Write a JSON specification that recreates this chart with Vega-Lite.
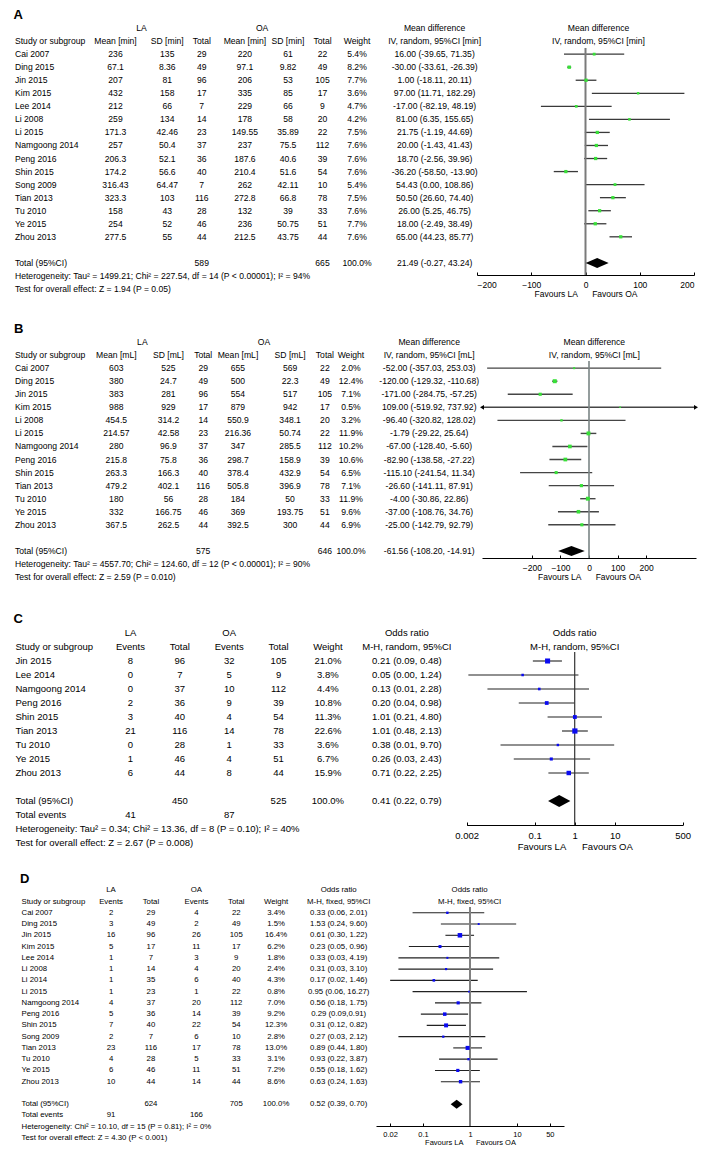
{
"$schema":"https://vega.github.io/schema/vega-lite/v6.json",
"background":"white",
"padding":{"top":9,"left":0,"right":0,"bottom":5},
"spacing":86,
"bounds":"flush",
"config":{"view":{"stroke":null},"text":{"font":"Liberation Sans","color":"#000"},"axis":{"labelFont":"Liberation Sans","titleFont":"Liberation Sans","titleFontWeight":"normal","labelColor":"#000","titleColor":"#000","domainColor":"#000","tickColor":"#000","grid":false}},
"datasets":{
"A_rows":[
{"study":"Cai 2007","m1":236,"sd1":135,"n1":29,"m2":220,"sd2":61,"n2":22,"w":0.054,"md":16.00,"lo":-39.65,"hi":71.35,"ci":"16.00 (-39.65, 71.35)"},
{"study":"Ding 2015","m1":67.1,"sd1":8.36,"n1":49,"m2":97.1,"sd2":9.82,"n2":49,"w":0.082,"md":-30.00,"lo":-33.61,"hi":-26.39,"ci":"-30.00 (-33.61, -26.39)"},
{"study":"Jin 2015","m1":207,"sd1":81,"n1":96,"m2":206,"sd2":53,"n2":105,"w":0.077,"md":1.00,"lo":-18.11,"hi":20.11,"ci":"1.00 (-18.11, 20.11)"},
{"study":"Kim 2015","m1":432,"sd1":158,"n1":17,"m2":335,"sd2":85,"n2":17,"w":0.036,"md":97.00,"lo":11.71,"hi":182.29,"ci":"97.00 (11.71, 182.29)"},
{"study":"Lee 2014","m1":212,"sd1":66,"n1":7,"m2":229,"sd2":66,"n2":9,"w":0.047,"md":-17.00,"lo":-82.19,"hi":48.19,"ci":"-17.00 (-82.19, 48.19)"},
{"study":"Li 2008","m1":259,"sd1":134,"n1":14,"m2":178,"sd2":58,"n2":20,"w":0.042,"md":81.00,"lo":6.35,"hi":155.65,"ci":"81.00 (6.35, 155.65)"},
{"study":"Li 2015","m1":171.3,"sd1":42.46,"n1":23,"m2":149.55,"sd2":35.89,"n2":22,"w":0.075,"md":21.75,"lo":-1.19,"hi":44.69,"ci":"21.75 (-1.19, 44.69)"},
{"study":"Namgoong 2014","m1":257,"sd1":50.4,"n1":37,"m2":237,"sd2":75.5,"n2":112,"w":0.076,"md":20.00,"lo":-1.43,"hi":41.43,"ci":"20.00 (-1.43, 41.43)"},
{"study":"Peng 2016","m1":206.3,"sd1":52.1,"n1":36,"m2":187.6,"sd2":40.6,"n2":39,"w":0.076,"md":18.70,"lo":-2.56,"hi":39.96,"ci":"18.70 (-2.56, 39.96)"},
{"study":"Shin 2015","m1":174.2,"sd1":56.6,"n1":40,"m2":210.4,"sd2":51.6,"n2":54,"w":0.076,"md":-36.20,"lo":-58.50,"hi":-13.90,"ci":"-36.20 (-58.50, -13.90)"},
{"study":"Song 2009","m1":316.43,"sd1":64.47,"n1":7,"m2":262,"sd2":42.11,"n2":10,"w":0.054,"md":54.43,"lo":0.00,"hi":108.86,"ci":"54.43 (0.00, 108.86)"},
{"study":"Tian 2013","m1":323.3,"sd1":103,"n1":116,"m2":272.8,"sd2":66.8,"n2":78,"w":0.075,"md":50.50,"lo":26.60,"hi":74.40,"ci":"50.50 (26.60, 74.40)"},
{"study":"Tu 2010","m1":158,"sd1":43,"n1":28,"m2":132,"sd2":39,"n2":33,"w":0.076,"md":26.00,"lo":5.25,"hi":46.75,"ci":"26.00 (5.25, 46.75)"},
{"study":"Ye 2015","m1":254,"sd1":52,"n1":46,"m2":236,"sd2":50.75,"n2":51,"w":0.077,"md":18.00,"lo":-2.49,"hi":38.49,"ci":"18.00 (-2.49, 38.49)"},
{"study":"Zhou 2013","m1":277.5,"sd1":55,"n1":44,"m2":212.5,"sd2":43.75,"n2":44,"w":0.076,"md":65.00,"lo":44.23,"hi":85.77,"ci":"65.00 (44.23, 85.77)"},
{"study":"Total (95%CI)","n1":589,"n2":665,"w":1.0,"md":21.49,"lo":-0.27,"hi":43.24,"ci":"21.49 (-0.27, 43.24)"}
],
"A_head":[
{"row":"super","col":"LA","t":"LA"},{"row":"super","col":"OA","t":"OA"},{"row":"super","col":"ci","t":"Mean difference"},{"row":"super","col":"fh","t":"Mean difference"},
{"row":"hdr","col":"m1","t":"Mean [min]"},{"row":"hdr","col":"sd1","t":"SD [min]"},{"row":"hdr","col":"n1","t":"Total"},{"row":"hdr","col":"m2","t":"Mean [min]"},{"row":"hdr","col":"sd2","t":"SD [min]"},{"row":"hdr","col":"n2","t":"Total"},{"row":"hdr","col":"w","t":"Weight"},{"row":"hdr","col":"ci","t":"IV, random, 95%CI [min]"},{"row":"hdr","col":"fh","t":"IV, random, 95%CI [min]"}
],
"A_left":[
{"row":"title","t":"A"},{"row":"hdr","t":"Study or subgroup"},
{"row":"het","t":"Heterogeneity: Tau² = 1499.21; Chi² = 227.54, df = 14 (P < 0.00001); I² = 94%"},
{"row":"test","t":"Test for overall effect: Z = 1.94 (P = 0.05)"}
],
"B_rows":[
{"study":"Cai 2007","m1":603,"sd1":525,"n1":29,"m2":655,"sd2":569,"n2":22,"w":0.020,"md":-52.00,"lo":-357.03,"hi":253.03,"ci":"-52.00 (-357.03, 253.03)"},
{"study":"Ding 2015","m1":380,"sd1":24.7,"n1":49,"m2":500,"sd2":22.3,"n2":49,"w":0.124,"md":-120.00,"lo":-129.32,"hi":-110.68,"ci":"-120.00 (-129.32, -110.68)"},
{"study":"Jin 2015","m1":383,"sd1":281,"n1":96,"m2":554,"sd2":517,"n2":105,"w":0.071,"md":-171.00,"lo":-284.75,"hi":-57.25,"ci":"-171.00 (-284.75, -57.25)"},
{"study":"Kim 2015","m1":988,"sd1":929,"n1":17,"m2":879,"sd2":942,"n2":17,"w":0.005,"md":109.00,"lo":-519.92,"hi":737.92,"ci":"109.00 (-519.92, 737.92)"},
{"study":"Li 2008","m1":454.5,"sd1":314.2,"n1":14,"m2":550.9,"sd2":348.1,"n2":20,"w":0.032,"md":-96.40,"lo":-320.82,"hi":128.02,"ci":"-96.40 (-320.82, 128.02)"},
{"study":"Li 2015","m1":214.57,"sd1":42.58,"n1":23,"m2":216.36,"sd2":50.74,"n2":22,"w":0.119,"md":-1.79,"lo":-29.22,"hi":25.64,"ci":"-1.79 (-29.22, 25.64)"},
{"study":"Namgoong 2014","m1":280,"sd1":96.9,"n1":37,"m2":347,"sd2":285.5,"n2":112,"w":0.102,"md":-67.00,"lo":-128.40,"hi":-5.60,"ci":"-67.00 (-128.40, -5.60)"},
{"study":"Peng 2016","m1":215.8,"sd1":75.8,"n1":36,"m2":298.7,"sd2":158.9,"n2":39,"w":0.106,"md":-82.90,"lo":-138.58,"hi":-27.22,"ci":"-82.90 (-138.58, -27.22)"},
{"study":"Shin 2015","m1":263.3,"sd1":166.3,"n1":40,"m2":378.4,"sd2":432.9,"n2":54,"w":0.065,"md":-115.10,"lo":-241.54,"hi":11.34,"ci":"-115.10 (-241.54, 11.34)"},
{"study":"Tian 2013","m1":479.2,"sd1":402.1,"n1":116,"m2":505.8,"sd2":396.9,"n2":78,"w":0.071,"md":-26.60,"lo":-141.11,"hi":87.91,"ci":"-26.60 (-141.11, 87.91)"},
{"study":"Tu 2010","m1":180,"sd1":56,"n1":28,"m2":184,"sd2":50,"n2":33,"w":0.119,"md":-4.00,"lo":-30.86,"hi":22.86,"ci":"-4.00 (-30.86, 22.86)"},
{"study":"Ye 2015","m1":332,"sd1":166.75,"n1":46,"m2":369,"sd2":193.75,"n2":51,"w":0.096,"md":-37.00,"lo":-108.76,"hi":34.76,"ci":"-37.00 (-108.76, 34.76)"},
{"study":"Zhou 2013","m1":367.5,"sd1":262.5,"n1":44,"m2":392.5,"sd2":300,"n2":44,"w":0.069,"md":-25.00,"lo":-142.79,"hi":92.79,"ci":"-25.00 (-142.79, 92.79)"},
{"study":"Total (95%CI)","n1":575,"n2":646,"w":1.0,"md":-61.56,"lo":-108.20,"hi":-14.91,"ci":"-61.56 (-108.20, -14.91)"}
],
"B_head":[
{"row":"super","col":"LA","t":"LA"},{"row":"super","col":"OA","t":"OA"},{"row":"super","col":"ci","t":"Mean difference"},{"row":"super","col":"fh","t":"Mean difference"},
{"row":"hdr","col":"m1","t":"Mean [mL]"},{"row":"hdr","col":"sd1","t":"SD [mL]"},{"row":"hdr","col":"n1","t":"Total"},{"row":"hdr","col":"m2","t":"Mean [mL]"},{"row":"hdr","col":"sd2","t":"SD [mL]"},{"row":"hdr","col":"n2","t":"Total"},{"row":"hdr","col":"w","t":"Weight"},{"row":"hdr","col":"ci","t":"IV, random, 95%CI [mL]"},{"row":"hdr","col":"fh","t":"IV, random, 95%CI [mL]"}
],
"B_left":[
{"row":"title","t":"B"},{"row":"hdr","t":"Study or subgroup"},
{"row":"het","t":"Heterogeneity: Tau² = 4557.70; Chi² = 124.60, df = 12 (P < 0.00001); I² = 90%"},
{"row":"test","t":"Test for overall effect: Z = 2.59 (P = 0.010)"}
],
"C_rows":[
{"study":"Jin 2015","ev1":8,"tot1":96,"ev2":32,"tot2":105,"w":0.210,"md":0.21,"lo":0.09,"hi":0.48,"ci":"0.21 (0.09, 0.48)"},
{"study":"Lee 2014","ev1":0,"tot1":7,"ev2":5,"tot2":9,"w":0.038,"md":0.05,"lo":0.0022,"hi":1.24,"ci":"0.05 (0.00, 1.24)"},
{"study":"Namgoong 2014","ev1":0,"tot1":37,"ev2":10,"tot2":112,"w":0.044,"md":0.13,"lo":0.0066,"hi":2.28,"ci":"0.13 (0.01, 2.28)"},
{"study":"Peng 2016","ev1":2,"tot1":36,"ev2":9,"tot2":39,"w":0.108,"md":0.20,"lo":0.04,"hi":0.98,"ci":"0.20 (0.04, 0.98)"},
{"study":"Shin 2015","ev1":3,"tot1":40,"ev2":4,"tot2":54,"w":0.113,"md":1.01,"lo":0.21,"hi":4.80,"ci":"1.01 (0.21, 4.80)"},
{"study":"Tian 2013","ev1":21,"tot1":116,"ev2":14,"tot2":78,"w":0.226,"md":1.01,"lo":0.48,"hi":2.13,"ci":"1.01 (0.48, 2.13)"},
{"study":"Tu 2010","ev1":0,"tot1":28,"ev2":1,"tot2":33,"w":0.036,"md":0.38,"lo":0.014,"hi":9.70,"ci":"0.38 (0.01, 9.70)"},
{"study":"Ye 2015","ev1":1,"tot1":46,"ev2":4,"tot2":51,"w":0.067,"md":0.26,"lo":0.03,"hi":2.43,"ci":"0.26 (0.03, 2.43)"},
{"study":"Zhou 2013","ev1":6,"tot1":44,"ev2":8,"tot2":44,"w":0.159,"md":0.71,"lo":0.22,"hi":2.25,"ci":"0.71 (0.22, 2.25)"},
{"study":"Total (95%CI)","tot1":450,"tot2":525,"w":1.0,"md":0.41,"lo":0.22,"hi":0.79,"ci":"0.41 (0.22, 0.79)"},
{"study":"Total events","ev1":41,"ev2":87}
],
"C_head":[
{"row":"super","col":"ev1","t":"LA"},{"row":"super","col":"ev2","t":"OA"},{"row":"super","col":"ci","t":"Odds ratio"},{"row":"super","col":"fh","t":"Odds ratio"},
{"row":"hdr","col":"ev1","t":"Events"},{"row":"hdr","col":"tot1","t":"Total"},{"row":"hdr","col":"ev2","t":"Events"},{"row":"hdr","col":"tot2","t":"Total"},{"row":"hdr","col":"w","t":"Weight"},{"row":"hdr","col":"ci","t":"M-H, random, 95%CI"},{"row":"hdr","col":"fh","t":"M-H, random, 95%CI"}
],
"C_left":[
{"row":"title","t":"C"},{"row":"hdr","t":"Study or subgroup"},
{"row":"het","t":"Heterogeneity: Tau² = 0.34; Chi² = 13.36, df = 8 (P = 0.10); I² = 40%"},
{"row":"test","t":"Test for overall effect: Z = 2.67 (P = 0.008)"}
],
"D_rows":[
{"study":"Cai 2007","ev1":2,"tot1":29,"ev2":4,"tot2":22,"w":0.034,"md":0.33,"lo":0.06,"hi":2.01,"ci":"0.33 (0.06, 2.01)"},
{"study":"Ding 2015","ev1":3,"tot1":49,"ev2":2,"tot2":49,"w":0.015,"md":1.53,"lo":0.24,"hi":9.60,"ci":"1.53 (0.24, 9.60)"},
{"study":"Jin 2015","ev1":16,"tot1":96,"ev2":26,"tot2":105,"w":0.164,"md":0.61,"lo":0.30,"hi":1.22,"ci":"0.61 (0.30, 1.22)"},
{"study":"Kim 2015","ev1":5,"tot1":17,"ev2":11,"tot2":17,"w":0.062,"md":0.23,"lo":0.05,"hi":0.96,"ci":"0.23 (0.05, 0.96)"},
{"study":"Lee 2014","ev1":1,"tot1":7,"ev2":3,"tot2":9,"w":0.018,"md":0.33,"lo":0.03,"hi":4.19,"ci":"0.33 (0.03, 4.19)"},
{"study":"Li 2008","ev1":1,"tot1":14,"ev2":4,"tot2":20,"w":0.024,"md":0.31,"lo":0.03,"hi":3.10,"ci":"0.31 (0.03, 3.10)"},
{"study":"Li 2014","ev1":1,"tot1":35,"ev2":6,"tot2":40,"w":0.043,"md":0.17,"lo":0.02,"hi":1.46,"ci":"0.17 (0.02, 1.46)"},
{"study":"Li 2015","ev1":1,"tot1":23,"ev2":1,"tot2":22,"w":0.008,"md":0.95,"lo":0.06,"hi":16.27,"ci":"0.95 (0.06, 16.27)"},
{"study":"Namgoong 2014","ev1":4,"tot1":37,"ev2":20,"tot2":112,"w":0.070,"md":0.56,"lo":0.18,"hi":1.75,"ci":"0.56 (0.18, 1.75)"},
{"study":"Peng 2016","ev1":5,"tot1":36,"ev2":14,"tot2":39,"w":0.092,"md":0.29,"lo":0.09,"hi":0.91,"ci":"0.29 (0.09,0.91)"},
{"study":"Shin 2015","ev1":7,"tot1":40,"ev2":22,"tot2":54,"w":0.123,"md":0.31,"lo":0.12,"hi":0.82,"ci":"0.31 (0.12, 0.82)"},
{"study":"Song 2009","ev1":2,"tot1":7,"ev2":6,"tot2":10,"w":0.028,"md":0.27,"lo":0.03,"hi":2.12,"ci":"0.27 (0.03, 2.12)"},
{"study":"Tian 2013","ev1":23,"tot1":116,"ev2":17,"tot2":78,"w":0.130,"md":0.89,"lo":0.44,"hi":1.80,"ci":"0.89 (0.44, 1.80)"},
{"study":"Tu 2010","ev1":4,"tot1":28,"ev2":5,"tot2":33,"w":0.031,"md":0.93,"lo":0.22,"hi":3.87,"ci":"0.93 (0.22, 3.87)"},
{"study":"Ye 2015","ev1":6,"tot1":46,"ev2":11,"tot2":51,"w":0.072,"md":0.55,"lo":0.18,"hi":1.62,"ci":"0.55 (0.18, 1.62)"},
{"study":"Zhou 2013","ev1":10,"tot1":44,"ev2":14,"tot2":44,"w":0.086,"md":0.63,"lo":0.24,"hi":1.63,"ci":"0.63 (0.24, 1.63)"},
{"study":"Total (95%CI)","tot1":624,"tot2":705,"w":1.0,"md":0.52,"lo":0.39,"hi":0.70,"ci":"0.52 (0.39, 0.70)"},
{"study":"Total events","ev1":91,"ev2":166}
],
"D_head":[
{"row":"super","col":"ev1","t":"LA"},{"row":"super","col":"ev2","t":"OA"},{"row":"super","col":"ci","t":"Odds ratio"},{"row":"super","col":"fh","t":"Odds ratio"},
{"row":"hdr","col":"ev1","t":"Events"},{"row":"hdr","col":"tot1","t":"Total"},{"row":"hdr","col":"ev2","t":"Events"},{"row":"hdr","col":"tot2","t":"Total"},{"row":"hdr","col":"w","t":"Weight"},{"row":"hdr","col":"ci","t":"M-H, fixed, 95%CI"},{"row":"hdr","col":"fh","t":"M-H, fixed, 95%CI"}
],
"D_left":[
{"row":"title","t":"D"},{"row":"hdr","t":"Study or subgroup"},
{"row":"het","t":"Heterogeneity: Chi² = 10.10, df = 15 (P = 0.81); I² = 0%"},
{"row":"test","t":"Test for overall effect: Z = 4.30 (P < 0.001)"}
]
},
"vconcat":[
{
"width":718,"height":227,
"resolve":{"scale":{"x":"independent"},"axis":{"x":"independent"}},
"layer":[
{"layer":[
{"data":{"name":"A_rows"},"mark":{"type":"text","align":"left","dx":3,"fontSize":8.6},
"encoding":{"x":{"datum":"study","type":"nominal","scale":{"type":"point","padding":0,"range":[12,702],"domain":["study","_1","_2","_3","_4","_5","_6","_7","_8","_9","_10","_11","m1","_13","_14","LA","_16","_17","sd1","_19","_20","_21","n1","_23","_24","_25","_26","m2","_28","OA","_30","_31","sd2","_33","_34","_35","n2","_37","_38","_39","w","_41","_42","_43","_44","_45","_46","_47","_48","ci","_50","_51","_52","_53","_54","_55","_56","_57","_58","_59","_60","_61","_62","_63","_64","_65","_66","_67","fh","_69","_70","_71","_72","_73","_74","_75","_76","_77","_78","_79","_80"]},"axis":{"orient":"top","labels":false,"ticks":false,"title":null,"domain":true,"domainColor":"#000","domainWidth":1}},
"y":{"field":"study","type":"nominal","scale":{"type":"point","padding":0,"range":[-33,241],"domain":["title","super","hdr","Cai 2007","Ding 2015","Jin 2015","Kim 2015","Lee 2014","Li 2008","Li 2015","Namgoong 2014","Peng 2016","Shin 2015","Song 2009","Tian 2013","Tu 2010","Ye 2015","Zhou 2013","gap","Total (95%CI)","het","test"]},"axis":null},
"text":{"field":"study","type":"nominal"}}},
{"data":{"name":"A_rows"},"transform":[{"fold":["m1","sd1","n1","m2","sd2","n2"],"as":["col","val"]},{"filter":"isValid(datum.val)"}],"mark":{"type":"text","fontSize":8.6},
"encoding":{"x":{"field":"col","type":"nominal","axis":null},"y":{"field":"study","type":"nominal","axis":null},"text":{"field":"val","type":"nominal"}}},
{"data":{"name":"A_rows"},"transform":[{"filter":"isValid(datum.w)"}],"mark":{"type":"text","fontSize":8.6},
"encoding":{"x":{"datum":"w","type":"nominal","axis":null},"y":{"field":"study","type":"nominal","axis":null},"text":{"field":"w","type":"quantitative","format":".1%"}}},
{"data":{"name":"A_rows"},"transform":[{"filter":"isValid(datum.ci)"}],"mark":{"type":"text","fontSize":8.6},
"encoding":{"x":{"datum":"ci","type":"nominal","axis":null},"y":{"field":"study","type":"nominal","axis":null},"text":{"field":"ci","type":"nominal"}}},
{"data":{"name":"A_head"},"mark":{"type":"text","fontSize":8.6},
"encoding":{"x":{"field":"col","type":"nominal","axis":null},"y":{"field":"row","type":"nominal","axis":null},"text":{"field":"t","type":"nominal"}}},
{"data":{"name":"A_left"},"transform":[{"filter":"datum.row != 'title'"}],"mark":{"type":"text","align":"left","dx":3,"fontSize":8.6},
"encoding":{"x":{"datum":"study","type":"nominal","axis":null},"y":{"field":"row","type":"nominal","axis":null},"text":{"field":"t","type":"nominal"}}},
{"data":{"name":"A_left"},"transform":[{"filter":"datum.row == 'title'"}],"mark":{"type":"text","align":"left","dx":1.5,"fontSize":13,"fontWeight":"bold"},
"encoding":{"x":{"datum":"study","type":"nominal","axis":null},"y":{"field":"row","type":"nominal","axis":null},"text":{"field":"t","type":"nominal"}}}
]},
{"layer":[
{"data":{"name":"A_rows"},"transform":[{"filter":"isValid(datum.md) && datum.study != 'Total (95%CI)'"}],"mark":{"type":"rule","color":"#3a3a3a","strokeWidth":1.3},
"encoding":{"x":{"field":"lo","type":"quantitative","scale":{"domain":[-200,200],"range":[477,694],"nice":false,"zero":false},"axis":{"orient":"bottom","values":[-200,-100,0,100,200],"format":"d","title":"Favours LA\u00a0\u00a0\u00a0\u00a0\u00a0\u00a0Favours OA","labelFontSize":8.5,"titleFontSize":8.5,"tickSize":-3,"labelPadding":8,"titlePadding":1}},
"x2":{"field":"hi"},"y":{"field":"study","type":"nominal","axis":null}}},
{"data":{"name":"A_rows"},"transform":[{"filter":"datum.study == 'Total (95%CI)'"}],"mark":{"type":"rule","color":"#7a7a7a","strokeWidth":2},
"encoding":{"x":{"datum":0,"type":"quantitative"}}},
{"data":{"name":"A_rows"},"transform":[{"filter":"isValid(datum.md) && datum.study != 'Total (95%CI)'"}],"mark":{"type":"square","filled":true,"color":"#38e038","opacity":1},
"encoding":{"x":{"field":"md","type":"quantitative"},"y":{"field":"study","type":"nominal","axis":null},"size":{"field":"w","type":"quantitative","scale":{"domain":[0,0.1],"range":[2,30]},"legend":null}}},
{"data":{"name":"A_rows"},"transform":[{"filter":"datum.study == 'Total (95%CI)'"}],"mark":{"type":"point","shape":"M-1,0L0,-0.435L1,0L0,0.435Z","filled":true,"color":"#000","opacity":1,"size":529},
"encoding":{"x":{"field":"md","type":"quantitative"},"y":{"field":"study","type":"nominal","axis":null}}}
]}
]
},
{
"spacing":94,
"bounds":"flush",
"vconcat":[
{
"width":718,"height":197,
"resolve":{"scale":{"x":"independent"},"axis":{"x":"independent"}},
"layer":[
{"layer":[
{"data":{"name":"B_rows"},"mark":{"type":"text","align":"left","dx":3,"fontSize":8.6},
"encoding":{"x":{"datum":"study","type":"nominal","scale":{"type":"point","padding":0,"range":[12,716],"domain":["study","_1","_2","_3","_4","_5","_6","_7","_8","_9","_10","_11","m1","_13","_14","LA","_16","_17","sd1","_19","_20","_21","n1","_23","_24","_25","m2","_27","_28","OA","_30","_31","sd2","_33","_34","_35","n2","_37","_38","w","_40","_41","_42","_43","_44","_45","_46","_47","ci","_49","_50","_51","_52","_53","_54","_55","_56","_57","_58","_59","_60","_61","_62","_63","_64","_65","_66","fh","_68","_69","_70","_71","_72","_73","_74","_75","_76","_77","_78","_79","_80","_81"]},"axis":{"orient":"top","labels":false,"ticks":false,"title":null,"domain":true,"domainColor":"#000","domainWidth":1}},
"y":{"field":"study","type":"nominal","scale":{"type":"point","padding":0,"range":[-32,216],"domain":["title","super","hdr","Cai 2007","Ding 2015","Jin 2015","Kim 2015","Li 2008","Li 2015","Namgoong 2014","Peng 2016","Shin 2015","Tian 2013","Tu 2010","Ye 2015","Zhou 2013","gap","Total (95%CI)","het","test"]},"axis":null},
"text":{"field":"study","type":"nominal"}}},
{"data":{"name":"B_rows"},"transform":[{"fold":["m1","sd1","n1","m2","sd2","n2"],"as":["col","val"]},{"filter":"isValid(datum.val)"}],"mark":{"type":"text","fontSize":8.6},
"encoding":{"x":{"field":"col","type":"nominal","axis":null},"y":{"field":"study","type":"nominal","axis":null},"text":{"field":"val","type":"nominal"}}},
{"data":{"name":"B_rows"},"transform":[{"filter":"isValid(datum.w)"}],"mark":{"type":"text","fontSize":8.6},
"encoding":{"x":{"datum":"w","type":"nominal","axis":null},"y":{"field":"study","type":"nominal","axis":null},"text":{"field":"w","type":"quantitative","format":".1%"}}},
{"data":{"name":"B_rows"},"transform":[{"filter":"isValid(datum.ci)"}],"mark":{"type":"text","fontSize":8.6},
"encoding":{"x":{"datum":"ci","type":"nominal","axis":null},"y":{"field":"study","type":"nominal","axis":null},"text":{"field":"ci","type":"nominal"}}},
{"data":{"name":"B_head"},"mark":{"type":"text","fontSize":8.6},
"encoding":{"x":{"field":"col","type":"nominal","axis":null},"y":{"field":"row","type":"nominal","axis":null},"text":{"field":"t","type":"nominal"}}},
{"data":{"name":"B_left"},"transform":[{"filter":"datum.row != 'title'"}],"mark":{"type":"text","align":"left","dx":3,"fontSize":8.6},
"encoding":{"x":{"datum":"study","type":"nominal","axis":null},"y":{"field":"row","type":"nominal","axis":null},"text":{"field":"t","type":"nominal"}}},
{"data":{"name":"B_left"},"transform":[{"filter":"datum.row == 'title'"}],"mark":{"type":"text","align":"left","dx":2,"fontSize":13,"fontWeight":"bold"},
"encoding":{"x":{"datum":"study","type":"nominal","axis":null},"y":{"field":"row","type":"nominal","axis":null},"text":{"field":"t","type":"nominal"}}}
]},
{"layer":[
{"data":{"name":"B_rows"},"transform":[{"filter":"isValid(datum.md) && datum.study != 'Total (95%CI)'"}],"mark":{"type":"rule","color":"#454545","strokeWidth":1.4},
"encoding":{"x":{"field":"lo","type":"quantitative","scale":{"domain":[-375,375],"range":[482,696],"nice":false,"zero":false,"clamp":true},"axis":{"orient":"bottom","values":[-200,-100,0,100,200],"format":"d","title":"Favours LA\u00a0\u00a0\u00a0\u00a0\u00a0\u00a0Favours OA","labelFontSize":8.5,"titleFontSize":8.5,"tickSize":-3,"labelPadding":8,"titlePadding":1}},
"x2":{"field":"hi"},"y":{"field":"study","type":"nominal","axis":null}}},
{"data":{"name":"B_rows"},"transform":[{"filter":"datum.study == 'Total (95%CI)'"}],"mark":{"type":"rule","color":"#7a8585","strokeWidth":1.6},
"encoding":{"x":{"datum":0,"type":"quantitative"}}},
{"data":{"name":"B_rows"},"transform":[{"filter":"datum.lo < -375"}],"mark":{"type":"point","shape":"triangle-left","filled":true,"color":"#000","opacity":1,"size":22},
"encoding":{"x":{"field":"lo","type":"quantitative"},"y":{"field":"study","type":"nominal","axis":null}}},
{"data":{"name":"B_rows"},"transform":[{"filter":"datum.hi > 375"}],"mark":{"type":"point","shape":"triangle-right","filled":true,"color":"#000","opacity":1,"size":22},
"encoding":{"x":{"field":"hi","type":"quantitative"},"y":{"field":"study","type":"nominal","axis":null}}},
{"data":{"name":"B_rows"},"transform":[{"filter":"isValid(datum.md) && datum.study != 'Total (95%CI)'"}],"mark":{"type":"square","filled":true,"color":"#38e038","opacity":1},
"encoding":{"x":{"field":"md","type":"quantitative"},"y":{"field":"study","type":"nominal","axis":null},"size":{"field":"w","type":"quantitative","scale":{"domain":[0,0.125],"range":[4,30]},"legend":null}}},
{"data":{"name":"B_rows"},"transform":[{"filter":"datum.study == 'Total (95%CI)'"}],"mark":{"type":"point","shape":"M-1,0L0,-0.376L1,0L0,0.376Z","filled":true,"color":"#000","opacity":1,"size":708},
"encoding":{"x":{"field":"md","type":"quantitative"},"y":{"field":"study","type":"nominal","axis":null}}}
]}
]
},
{
"spacing":82,
"bounds":"flush",
"vconcat":[
{
"width":718,"height":173,
"resolve":{"scale":{"x":"independent"},"axis":{"x":"independent"}},
"layer":[
{"layer":[
{"data":{"name":"C_rows"},"mark":{"type":"text","align":"left","dx":3.5,"fontSize":9.5},
"encoding":{"x":{"datum":"study","type":"nominal","scale":{"type":"point","padding":0,"range":[12,703],"domain":["study","_1","_2","_3","_4","_5","_6","_7","_8","_9","_10","_11","ev1","_13","_14","_15","_16","tot1","_18","_19","_20","_21","ev2","_23","_24","_25","_26","tot2","_28","_29","_30","_31","w","_33","_34","_35","_36","_37","_38","_39","ci","_41","_42","_43","_44","_45","_46","_47","_48","_49","_50","_51","_52","_53","_54","_55","_56","fh","_58","_59","_60","_61","_62","_63","_64","_65","_66","_67","_68","_69","_70"]},"axis":{"orient":"top","labels":false,"ticks":false,"title":null,"domain":true,"domainColor":"#000","domainWidth":1}},
"y":{"field":"study","type":"nominal","scale":{"type":"point","padding":0,"range":[-33,191],"domain":["title","super","hdr","Jin 2015","Lee 2014","Namgoong 2014","Peng 2016","Shin 2015","Tian 2013","Tu 2010","Ye 2015","Zhou 2013","gap","Total (95%CI)","Total events","het","test"]},"axis":null},
"text":{"field":"study","type":"nominal"}}},
{"data":{"name":"C_rows"},"transform":[{"fold":["ev1","tot1","ev2","tot2"],"as":["col","val"]},{"filter":"isValid(datum.val)"}],"mark":{"type":"text","fontSize":9.5},
"encoding":{"x":{"field":"col","type":"nominal","axis":null},"y":{"field":"study","type":"nominal","axis":null},"text":{"field":"val","type":"nominal"}}},
{"data":{"name":"C_rows"},"transform":[{"filter":"isValid(datum.w)"}],"mark":{"type":"text","fontSize":9.5},
"encoding":{"x":{"datum":"w","type":"nominal","axis":null},"y":{"field":"study","type":"nominal","axis":null},"text":{"field":"w","type":"quantitative","format":".1%"}}},
{"data":{"name":"C_rows"},"transform":[{"filter":"isValid(datum.ci)"}],"mark":{"type":"text","fontSize":9.5},
"encoding":{"x":{"datum":"ci","type":"nominal","axis":null},"y":{"field":"study","type":"nominal","axis":null},"text":{"field":"ci","type":"nominal"}}},
{"data":{"name":"C_head"},"mark":{"type":"text","fontSize":9.5},
"encoding":{"x":{"field":"col","type":"nominal","axis":null},"y":{"field":"row","type":"nominal","axis":null},"text":{"field":"t","type":"nominal"}}},
{"data":{"name":"C_left"},"transform":[{"filter":"datum.row != 'title'"}],"mark":{"type":"text","align":"left","dx":3.5,"fontSize":9.5},
"encoding":{"x":{"datum":"study","type":"nominal","axis":null},"y":{"field":"row","type":"nominal","axis":null},"text":{"field":"t","type":"nominal"}}},
{"data":{"name":"C_left"},"transform":[{"filter":"datum.row == 'title'"}],"mark":{"type":"text","align":"left","dx":1.5,"fontSize":13,"fontWeight":"bold"},
"encoding":{"x":{"datum":"study","type":"nominal","axis":null},"y":{"field":"row","type":"nominal","axis":null},"text":{"field":"t","type":"nominal"}}}
]},
{"layer":[
{"data":{"name":"C_rows"},"transform":[{"filter":"isValid(datum.md) && datum.study != 'Total (95%CI)'"}],"mark":{"type":"rule","color":"#222","strokeWidth":1.1},
"encoding":{"x":{"field":"lo","type":"quantitative","scale":{"type":"log","domain":[0.002,500],"range":[466.7,682.7],"nice":false,"clamp":true},"axis":{"orient":"bottom","values":[0.002,0.1,1,10,500],"format":"~g","labelFlush":false,"title":"Favours LA\u00a0\u00a0\u00a0\u00a0\u00a0\u00a0Favours OA","labelFontSize":9.5,"titleFontSize":9.5,"tickSize":-3,"labelPadding":8,"titlePadding":2}},
"x2":{"field":"hi"},"y":{"field":"study","type":"nominal","axis":null}}},
{"data":{"name":"C_rows"},"transform":[{"filter":"datum.study == 'Total (95%CI)'"}],"mark":{"type":"rule","color":"#333","strokeWidth":1.2},
"encoding":{"x":{"datum":1,"type":"quantitative"}}},
{"data":{"name":"C_rows"},"transform":[{"filter":"isValid(datum.md) && datum.study != 'Total (95%CI)'"}],"mark":{"type":"square","filled":true,"color":"#0a0af0","opacity":1},
"encoding":{"x":{"field":"md","type":"quantitative"},"y":{"field":"study","type":"nominal","axis":null},"size":{"field":"w","type":"quantitative","scale":{"domain":[0,0.25],"range":[3,36]},"legend":null}}},
{"data":{"name":"C_rows"},"transform":[{"filter":"datum.study == 'Total (95%CI)'"}],"mark":{"type":"point","shape":"M-1,0L0,-0.54L1,0L0,0.54Z","filled":true,"color":"#000","opacity":1,"size":497},
"encoding":{"x":{"field":"md","type":"quantitative"},"y":{"field":"study","type":"nominal","axis":null}}}
]}
]
},
{
"width":718,"height":219,
"resolve":{"scale":{"x":"independent"},"axis":{"x":"independent"}},
"layer":[
{"layer":[
{"data":{"name":"D_rows"},"mark":{"type":"text","align":"left","dx":1.5,"fontSize":7.8},
"encoding":{"x":{"datum":"study","type":"nominal","scale":{"type":"point","padding":0,"range":[20,572],"domain":["study","_1","_2","_3","_4","_5","_6","_7","_8","_9","_10","_11","_12","_13","_14","_15","ev1","_17","_18","_19","_20","_21","_22","tot1","_24","_25","_26","_27","_28","_29","_30","ev2","_32","_33","_34","_35","_36","_37","tot2","_39","_40","_41","_42","_43","_44","w","_46","_47","_48","_49","_50","_51","_52","_53","_54","_55","ci","_57","_58","_59","_60","_61","_62","_63","_64","_65","_66","_67","_68","_69","_70","_71","_72","_73","_74","_75","_76","_77","_78","fh","_80","_81","_82","_83","_84","_85","_86","_87","_88","_89","_90","_91","_92","_93","_94","_95","_96","_97"]},"axis":{"orient":"top","labels":false,"ticks":false,"title":null,"domain":true,"domainColor":"#222","domainWidth":1}},
"y":{"field":"study","type":"nominal","scale":{"type":"point","padding":0,"range":[-28,231],"domain":["title","super","hdr","Cai 2007","Ding 2015","Jin 2015","Kim 2015","Lee 2014","Li 2008","Li 2014","Li 2015","Namgoong 2014","Peng 2016","Shin 2015","Song 2009","Tian 2013","Tu 2010","Ye 2015","Zhou 2013","gap","Total (95%CI)","Total events","het","test"]},"axis":null},
"text":{"field":"study","type":"nominal"}}},
{"data":{"name":"D_rows"},"transform":[{"fold":["ev1","tot1","ev2","tot2"],"as":["col","val"]},{"filter":"isValid(datum.val)"}],"mark":{"type":"text","fontSize":7.8},
"encoding":{"x":{"field":"col","type":"nominal","axis":null},"y":{"field":"study","type":"nominal","axis":null},"text":{"field":"val","type":"nominal"}}},
{"data":{"name":"D_rows"},"transform":[{"filter":"isValid(datum.w)"}],"mark":{"type":"text","fontSize":7.8},
"encoding":{"x":{"datum":"w","type":"nominal","axis":null},"y":{"field":"study","type":"nominal","axis":null},"text":{"field":"w","type":"quantitative","format":".1%"}}},
{"data":{"name":"D_rows"},"transform":[{"filter":"isValid(datum.ci)"}],"mark":{"type":"text","fontSize":7.8},
"encoding":{"x":{"datum":"ci","type":"nominal","axis":null},"y":{"field":"study","type":"nominal","axis":null},"text":{"field":"ci","type":"nominal"}}},
{"data":{"name":"D_head"},"mark":{"type":"text","fontSize":7.8},
"encoding":{"x":{"field":"col","type":"nominal","axis":null},"y":{"field":"row","type":"nominal","axis":null},"text":{"field":"t","type":"nominal"}}},
{"data":{"name":"D_left"},"transform":[{"filter":"datum.row != 'title'"}],"mark":{"type":"text","align":"left","dx":1.5,"fontSize":7.8},
"encoding":{"x":{"datum":"study","type":"nominal","axis":null},"y":{"field":"row","type":"nominal","axis":null},"text":{"field":"t","type":"nominal"}}},
{"data":{"name":"D_left"},"transform":[{"filter":"datum.row == 'title'"}],"mark":{"type":"text","align":"left","dx":0,"fontSize":13,"fontWeight":"bold"},
"encoding":{"x":{"datum":"study","type":"nominal","axis":null},"y":{"field":"row","type":"nominal","axis":null},"text":{"field":"t","type":"nominal"}}}
]},
{"layer":[
{"data":{"name":"D_rows"},"transform":[{"filter":"isValid(datum.md) && datum.study != 'Total (95%CI)'"}],"mark":{"type":"rule","color":"#222","strokeWidth":1.1},
"encoding":{"x":{"field":"lo","type":"quantitative","scale":{"type":"log","domain":[0.01,100],"range":[376,564],"nice":false,"clamp":true},"axis":{"orient":"bottom","values":[0.02,0.1,1,10,50],"format":"~g","labelFlush":false,"title":"Favours LA\u00a0\u00a0\u00a0\u00a0\u00a0\u00a0Favours OA","labelFontSize":7.5,"titleFontSize":7.5,"tickSize":-3,"labelPadding":7,"titlePadding":1}},
"x2":{"field":"hi"},"y":{"field":"study","type":"nominal","axis":null}}},
{"data":{"name":"D_rows"},"transform":[{"filter":"datum.study == 'Total (95%CI)'"}],"mark":{"type":"rule","color":"#808080","strokeWidth":2},
"encoding":{"x":{"datum":1,"type":"quantitative"}}},
{"data":{"name":"D_rows"},"transform":[{"filter":"isValid(datum.md) && datum.study != 'Total (95%CI)'"}],"mark":{"type":"square","filled":true,"color":"#0a0af0","opacity":1},
"encoding":{"x":{"field":"md","type":"quantitative"},"y":{"field":"study","type":"nominal","axis":null},"size":{"field":"w","type":"quantitative","scale":{"domain":[0,0.17],"range":[2,20]},"legend":null}}},
{"data":{"name":"D_rows"},"transform":[{"filter":"datum.study == 'Total (95%CI)'"}],"mark":{"type":"point","shape":"M-1,0L0,-0.756L1,0L0,0.756Z","filled":true,"color":"#000","opacity":1,"size":142},
"encoding":{"x":{"field":"md","type":"quantitative"},"y":{"field":"study","type":"nominal","axis":null}}}
]}
]
}
]
}
]
}
]
}
